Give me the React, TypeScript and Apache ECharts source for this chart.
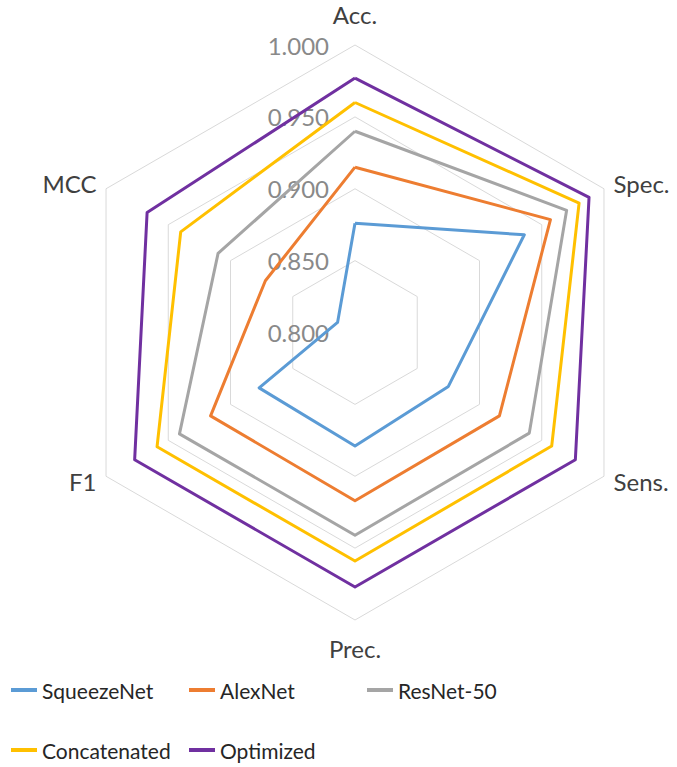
import React, { useEffect, useRef } from "react";
import * as echarts from "echarts";

const indicators = ["Acc.", "Spec.", "Sens.", "Prec.", "F1", "MCC"];
const seriesNames = ["SqueezeNet", "AlexNet", "ResNet-50", "Concatenated", "Optimized"];
const squeezeNet = [0.876, 0.936, 0.875, 0.879, 0.877, 0.814];
const alexNet = [0.915, 0.957, 0.916, 0.917, 0.916, 0.872];
const resNet50 = [0.940, 0.970, 0.940, 0.941, 0.941, 0.910];
const concatenated = [0.960, 0.980, 0.958, 0.959, 0.959, 0.940];
const optimized = [0.977, 0.988, 0.977, 0.977, 0.977, 0.967];
const axisMin = 0.8;
const axisMax = 1.0;
const tickCount = 4;
const colors = ["#5B9BD5", "#ED7D31", "#A5A5A5", "#FFC000", "#7030A0"];

export default function App() {
  const ref = useRef<HTMLDivElement>(null);
  useEffect(() => {
    document.body.style.margin = "0";
    if (!ref.current) return;
    const chart = echarts.init(ref.current, null, { renderer: "svg" });
    const values = [squeezeNet, alexNet, resNet50, concatenated, optimized];
    // ECharts radar runs counter-clockwise; reorder so the axes run clockwise as in the reference
    const order = indicators.map((_, i) => (i === 0 ? 0 : indicators.length - i));
    const gapFor = (name: string) => (name === "Acc." ? 19 : name === "Prec." ? 16 : 11);
    const font = "Lato";
    const legendBase = {
      orient: "vertical" as const,
      top: 678,
      padding: 0,
      itemWidth: 26,
      itemHeight: 4,
      itemGap: 36,
      icon: "rect",
      textStyle: { fontFamily: font, fontSize: 21, color: "#262626", lineHeight: 24 },
    };
    chart.setOption({
      animation: false,
      color: colors,
      textStyle: { fontFamily: font },
      legend: [
        { ...legendBase, left: 11, data: [seriesNames[0], seriesNames[3]] },
        { ...legendBase, left: 189, data: [seriesNames[1], seriesNames[4]] },
        { ...legendBase, left: 367, data: [seriesNames[2]] },
      ],
      radar: {
        center: [355, 332.5],
        radius: 287.5,
        startAngle: 90,
        shape: "polygon",
        splitNumber: tickCount,
        nameGap: 12,
        axisName: { color: "#404040", fontSize: 24, fontFamily: font },
        axisLine: { show: false },
        axisTick: { show: false },
        axisLabel: { show: false },
        splitArea: { show: false },
        splitLine: { lineStyle: { color: "#D9D9D9", width: 1 } },
        indicator: order.map((idx, i) => ({
          name: indicators[idx],
          min: axisMin,
          max: axisMax,
          nameGap: gapFor(indicators[idx]),
          ...(i === 0
            ? {
                axisLabel: {
                  show: true,
                  color: "#898989",
                  fontSize: 24,
                  fontFamily: font,
                  margin: 26,
                  formatter: (v: number) => Number(v).toFixed(3),
                },
              }
            : {}),
        })),
      },
      series: [
        {
          type: "radar",
          symbol: "none",
          data: seriesNames.map((name, i) => ({
            name,
            value: order.map((idx) => values[i][idx]),
            lineStyle: { color: colors[i], width: 3 },
            itemStyle: { color: colors[i] },
          })),
        },
      ],
    });
    return () => chart.dispose();
  }, []);
  return <div ref={ref} style={{ width: 677, height: 767 }} />;
}
